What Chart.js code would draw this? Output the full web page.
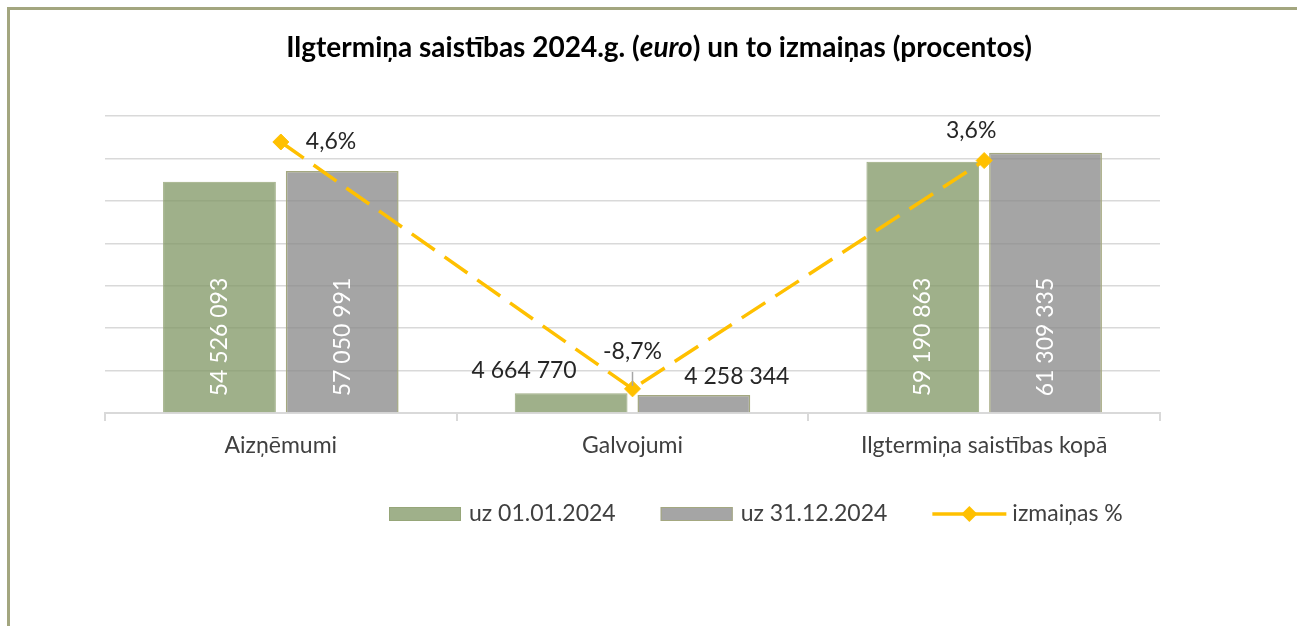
<!DOCTYPE html>
<html>
<head>
<meta charset="utf-8">
<title>Ilgtermiņa saistības 2024.g.</title>
<script src="https://cdn.jsdelivr.net/npm/chart.js@4.4.1/dist/chart.umd.min.js"></script>
<style>
  html, body { margin: 0; padding: 0; background: #fff; overflow: hidden; }
  #wrap { position: relative; width: 1297px; height: 626px; }
  #frame {
    position: absolute; left: 7px; top: 7px; width: 1400px; height: 800px;
    border: 3px solid #a3a67f; box-sizing: border-box;
  }
  #chart { position: absolute; left: 0; top: 0; }
</style>
</head>
<body>
<div id="wrap">
  <div id="frame"></div>
  <canvas id="chart" width="1297" height="626"></canvas>
</div>
<script>
// data
const categories = ["Aizņēmumi", "Galvojumi", "Ilgtermiņa saistības kopā"];
const startValues = [54526093, 4664770, 59190863];
const endValues = [57050991, 4258344, 61309335];
const changePct = [4.6, -8.7, 3.6];
const seriesNames = ["uz 01.01.2024", "uz 31.12.2024", "izmaiņas %"];

const FONT_FAMILY = "Lato, 'Open Sans', sans-serif";
const FONT_SIZE = 23;
const TITLE_SIZE = 28;

const GREEN = "rgba(127, 150, 99, 0.75)";
const GREY = "rgba(135, 135, 135, 0.75)";
const GOLD = "#ffc000";

// where labels of short bars and of the line points go (px from the mark)
const shortBarNudge = [{ dx: -47, dy: -23 }, { dx: 43, dy: -18 }];
const pctLabelPos = [
  { dx: 25, dy: 0, align: "left" },
  { dx: 0, dy: -37, align: "center", leader: true },
  { dx: -13, dy: -30, align: "center" }
];

const fmtNum = n => String(n).replace(/\B(?=(\d{3})+(?!\d))/g, " ");
const fmtPct = v => v.toFixed(1).replace(".", ",") + "%";

const labelsPlugin = {
  id: "valueLabels",
  afterDatasetsDraw(chart) {
    const ctx = chart.ctx;
    ctx.save();
    ctx.font = `${FONT_SIZE}px ${FONT_FAMILY}`;
    [0, 1].forEach(di => {
      const values = chart.data.datasets[di].data;
      chart.getDatasetMeta(di).data.forEach((bar, i) => {
        const text = fmtNum(values[i]);
        const w = ctx.measureText(text).width;
        if (bar.base - bar.y > w + 30) {
          ctx.save();
          ctx.translate(bar.x, bar.base - 16);
          ctx.rotate(-Math.PI / 2);
          ctx.fillStyle = "#ffffff";
          ctx.textAlign = "left";
          ctx.textBaseline = "middle";
          ctx.fillText(text, 0, 0);
          ctx.restore();
        } else {
          const n = shortBarNudge[di];
          ctx.fillStyle = "#262626";
          ctx.textAlign = "center";
          ctx.textBaseline = "middle";
          ctx.fillText(text, bar.x + n.dx, bar.y + n.dy);
        }
      });
    });

    // percentage labels on the line
    chart.getDatasetMeta(2).data.forEach((pt, i) => {
      const p = pctLabelPos[i];
      if (p.leader) {
        ctx.strokeStyle = "#a6a6a6";
        ctx.lineWidth = 1.5;
        ctx.beginPath();
        ctx.moveTo(pt.x, pt.y + p.dy + 20);
        ctx.lineTo(pt.x, pt.y - 3);
        ctx.stroke();
      }
      ctx.fillStyle = "#262626";
      ctx.textAlign = p.align;
      ctx.textBaseline = "middle";
      ctx.fillText(fmtPct(changePct[i]), pt.x + p.dx, pt.y + p.dy);
    });
    ctx.restore();
  },
  afterDraw(chart) {
    const ctx = chart.ctx;
    ctx.save();

    // title, with "euro" in italics
    const parts = [
      ["Ilgtermiņa saistības 2024.g. (", ""],
      ["euro", "italic "],
      [") un to izmaiņas (procentos)", ""]
    ];
    let total = 0;
    parts.forEach(p => {
      ctx.font = `${p[1]}bold ${TITLE_SIZE}px ${FONT_FAMILY}`;
      p.w = ctx.measureText(p[0]).width;
      total += p.w;
    });
    let x = 659 - total / 2;
    ctx.fillStyle = "#000";
    ctx.textBaseline = "middle";
    ctx.textAlign = "left";
    parts.forEach(p => {
      ctx.font = `${p[1]}bold ${TITLE_SIZE}px ${FONT_FAMILY}`;
      ctx.fillText(p[0], x, 48);
      x += p.w;
    });

    // legend
    ctx.font = `${FONT_SIZE}px ${FONT_FAMILY}`;
    const ly = 514;
    let lx = 389;
    const ds = chart.data.datasets;
    ds.forEach((d, i) => {
      if (d.type === "line") {
        ctx.strokeStyle = d.borderColor;
        ctx.lineWidth = 3.5;
        ctx.beginPath();
        ctx.moveTo(lx, ly);
        ctx.lineTo(lx + 74, ly);
        ctx.stroke();
        ctx.fillStyle = d.pointBackgroundColor;
        ctx.beginPath();
        ctx.moveTo(lx + 37, ly - 8);
        ctx.lineTo(lx + 45, ly);
        ctx.lineTo(lx + 37, ly + 8);
        ctx.lineTo(lx + 29, ly);
        ctx.closePath();
        ctx.fill();
      } else {
        ctx.fillStyle = d.backgroundColor;
        ctx.fillRect(lx, ly - 7, 72, 14);
        ctx.strokeStyle = d.borderColor;
        ctx.lineWidth = 1;
        ctx.strokeRect(lx + 0.5, ly - 6.5, 71, 13);
      }
      ctx.fillStyle = "#404040";
      ctx.textBaseline = "middle";
      ctx.fillText(seriesNames[i], lx + 80, ly);
      lx += 80 + ctx.measureText(seriesNames[i]).width + 45;
    });
    ctx.restore();
  }
};

new Chart(document.getElementById("chart").getContext("2d"), {
  type: "bar",
  data: {
    labels: categories,
    datasets: [
      {
        label: seriesNames[0],
        data: startValues,
        backgroundColor: GREEN,
        borderColor: "rgba(150, 165, 120, 0.9)",
        borderWidth: 1,
        categoryPercentage: 0.698,
        barPercentage: 0.919,
        yAxisID: "y",
        order: 2
      },
      {
        label: seriesNames[1],
        data: endValues,
        backgroundColor: GREY,
        borderColor: "#a4a880",
        borderWidth: 1.5,
        categoryPercentage: 0.698,
        barPercentage: 0.919,
        yAxisID: "y",
        order: 2
      },
      {
        type: "line",
        label: seriesNames[2],
        data: changePct,
        yAxisID: "y1",
        borderColor: GOLD,
        borderWidth: 3.5,
        borderDash: [28, 12],
        pointStyle: "rectRot",
        pointRadius: 8,
        pointBackgroundColor: GOLD,
        pointBorderColor: GOLD,
        pointBorderWidth: 1,
        tension: 0,
        fill: false,
        order: 0
      }
    ]
  },
  options: {
    responsive: false,
    animation: false,
    layout: { padding: { left: 105, right: 137, top: 116, bottom: 153 } },
    plugins: {
      legend: { display: false },
      title: { display: false },
      tooltip: { enabled: false }
    },
    scales: {
      x: {
        offset: true,
        grid: { drawOnChartArea: false, drawTicks: true, tickLength: 8, color: "#d9d9d9", lineWidth: 2, offset: true },
        border: { display: true, color: "#d9d9d9", width: 2 },
        ticks: { color: "#404040", font: { family: FONT_FAMILY, size: FONT_SIZE }, padding: 11 },
        afterFit(scale) { scale.height = 60; }
      },
      y: {
        min: 0,
        max: 70000000,
        ticks: { display: false, stepSize: 10000000 },
        grid: { color: "#d9d9d9", lineWidth: 1.5, drawTicks: false },
        border: { display: false },
        afterFit(scale) { scale.width = 0; }
      },
      y1: {
        display: false,
        min: -10,
        max: 6
      }
    }
  },
  plugins: [labelsPlugin]
});
</script>
</body>
</html>
